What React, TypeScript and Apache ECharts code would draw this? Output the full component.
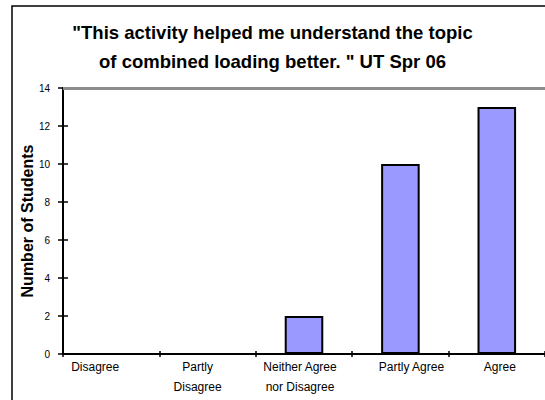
import React, { useEffect, useRef } from "react";
import * as echarts from "echarts";

const titleLines = [
  "\"This activity helped me understand the topic",
  "of combined loading better. \" UT Spr 06",
];
const categories = ["Disagree", "Partly\nDisagree", "Neither Agree\nnor Disagree", "Partly Agree", "Agree"];
const labelShift = [-16, -10, -4, 11, 3];
const students = [0, 0, 2, 10, 13];
const yMin = 0;
const yMax = 14;
const yStep = 2;
const yName = "Number of Students";

export default function App() {
  const ref = useRef<HTMLDivElement>(null);
  useEffect(() => {
    const chart = echarts.init(ref.current!, undefined, { renderer: "svg" });
    const font = "'Liberation Sans', Arial, sans-serif";
    const catData = categories.map((c, i) => {
      const s = labelShift[i];
      const pad = s >= 0 ? [0, 0, 0, 2 * s] : [0, -2 * s, 0, 0];
      return { value: c, textStyle: { padding: pad } };
    });
    chart.setOption({
      animation: false,
      backgroundColor: "#ffffff",
      title: {
        text: titleLines.join("\n"),
        left: "center",
        top: 13,
        textStyle: {
          fontFamily: font,
          fontSize: 18.5,
          fontWeight: "bold",
          color: "#000",
          lineHeight: 29,
        },
      },
      graphic: [
        {
          type: "rect",
          shape: { x: 12, y: 6, width: 600, height: 500 },
          style: { fill: "none", stroke: "#000", lineWidth: 1.5 },
          silent: true,
        },
      ],
      grid: { left: 63, right: 0, top: 88, bottom: 46, containLabel: false },
      xAxis: [
        {
          type: "category",
          data: catData,
          boundaryGap: true,
          axisLine: { show: true, lineStyle: { color: "#000", width: 2 } },
          axisTick: { show: true, length: 3, lineStyle: { color: "#000", width: 1.5 } },
          axisLabel: {
            color: "#000",
            fontFamily: font,
            fontSize: 12,
            lineHeight: 20,
            margin: 3,
            interval: 0,
          },
          splitLine: { show: false },
        },
        {
          type: "category",
          data: categories,
          position: "bottom",
          boundaryGap: true,
          axisLine: { show: false },
          axisTick: { show: true, inside: true, length: 3, lineStyle: { color: "#000", width: 1.5 } },
          axisLabel: { show: false },
          splitLine: { show: false },
        },
      ],
      yAxis: [
        {
          type: "value",
          min: yMin,
          max: yMax,
          interval: yStep,
          name: yName,
          nameLocation: "middle",
          nameGap: 28,
          nameMoveOverlap: false,
          nameRotate: 90,
          nameTextStyle: { fontFamily: font, fontSize: 16, fontWeight: "bold", color: "#000" },
          axisLine: { show: true, lineStyle: { color: "#000", width: 2 } },
          axisTick: { show: true, length: 5, lineStyle: { color: "#000", width: 1.5 } },
          axisLabel: { color: "#000", fontFamily: font, fontSize: 10, margin: 13 },
          splitLine: { show: false },
        },
        {
          type: "value",
          min: yMin,
          max: yMax,
          interval: yStep,
          position: "left",
          axisLine: { show: false },
          axisTick: { show: true, inside: true, length: 5, lineStyle: { color: "#000", width: 1.5 } },
          axisLabel: { show: false },
          splitLine: { show: false },
        },
      ],
      series: [
        {
          type: "bar",
          data: students,
          barWidth: "40%",
          itemStyle: { color: "#9999ff", borderColor: "#000", borderWidth: 2 },
          markLine: {
            silent: true,
            symbol: ["none", "none"],
            label: { show: false },
            lineStyle: { color: "#8c8c8c", width: 3, type: "solid" },
            data: [{ yAxis: yMax }],
          },
        },
      ],
    });
    return () => chart.dispose();
  }, []);
  return (
    <div
      ref={ref}
      style={{ position: "fixed", left: 0, top: 0, width: 545, height: 400 }}
    />
  );
}
